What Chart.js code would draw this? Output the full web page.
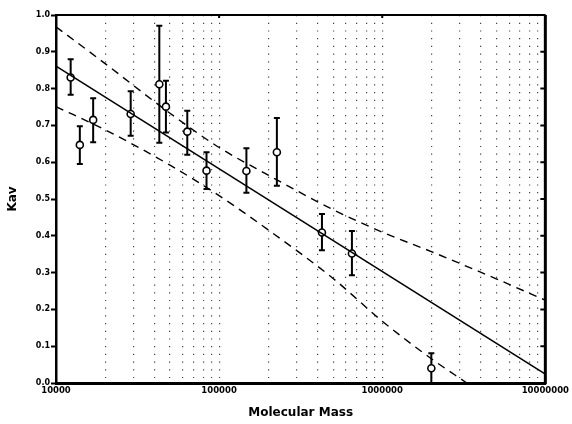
<!DOCTYPE html>
<html>
<head>
<meta charset="utf-8">
<script src="https://cdn.jsdelivr.net/npm/chart.js@4"></script>
<style>
  html, body { margin: 0; padding: 0; background: #fff; }
  #wrap { width: 572px; height: 424px; }
</style>
</head>
<body>
<div id="wrap"><canvas id="c"></canvas></div>
<script>
// measured standards (molecular mass vs Kav)
const mass = [12300, 14000, 16900, 28700, 43000, 47200, 63800, 83700, 147000, 226000, 427000, 652000, 2000000];
const kav = [0.830, 0.647, 0.715, 0.731, 0.812, 0.751, 0.683, 0.577, 0.576, 0.627, 0.409, 0.352, 0.040];
const kavHigh = [0.880, 0.698, 0.774, 0.793, 0.971, 0.821, 0.740, 0.627, 0.638, 0.720, 0.459, 0.413, 0.081];
const kavLow = [0.783, 0.595, 0.654, 0.672, 0.653, 0.681, 0.620, 0.527, 0.517, 0.536, 0.361, 0.293, 0.0];

// fitted line and confidence bands
const fitMass = [10000, 10000000];
const fitKav = [0.861, 0.024];
const upperMass = [10000, 20000, 50000, 100000, 200000, 500000, 1000000, 2000000, 5000000, 10000000];
const upperKav = [0.968, 0.868, 0.733, 0.640, 0.565, 0.471, 0.410, 0.357, 0.283, 0.225];
const lowerMass = [10000, 20000, 50000, 100000, 200000, 500000, 1000000, 2000000, 3300000];
const lowerKav = [0.751, 0.688, 0.592, 0.509, 0.416, 0.284, 0.168, 0.066, 0.0];

const xTicks = [];
for (const d of [10000, 100000, 1000000]) {
  for (let k = 1; k <= 9; k++) xTicks.push(d * k);
}
xTicks.push(10000000);
const xTickLabels = [10000, 100000, 1000000, 10000000];
const yTicks = [0, 0.1, 0.2, 0.3, 0.4, 0.5, 0.6, 0.7, 0.8, 0.9, 1.0];

const FONT = "'DejaVu Sans', sans-serif";

const pts = (xs, ys) => xs.map((x, i) => ({ x, y: ys[i] }));

// error bars under the markers, plus top/right frame with inside ticks
const errorBars = {
  id: 'errorBars',
  beforeDatasetsDraw(chart) {
    const { ctx, scales: { x, y } } = chart;
    ctx.save();
    ctx.strokeStyle = '#000';
    ctx.lineWidth = 2;
    mass.forEach((m, i) => {
      const px = x.getPixelForValue(m);
      const top = y.getPixelForValue(kavHigh[i]);
      const bot = y.getPixelForValue(kavLow[i]);
      ctx.beginPath();
      ctx.moveTo(px, top); ctx.lineTo(px, bot);
      ctx.moveTo(px - 3, top); ctx.lineTo(px + 3, top);
      ctx.moveTo(px - 3, bot); ctx.lineTo(px + 3, bot);
      ctx.stroke();
    });
    ctx.restore();
  },
  afterDraw(chart) {
    const { ctx, chartArea: a, scales: { x, y } } = chart;
    ctx.save();
    ctx.setLineDash([]);
    ctx.strokeStyle = '#000';
    ctx.lineWidth = 2;
    ctx.beginPath();
    ctx.moveTo(a.left, a.top); ctx.lineTo(a.right, a.top);
    ctx.stroke();
    ctx.lineWidth = 3;
    ctx.beginPath();
    ctx.moveTo(a.right, a.top); ctx.lineTo(a.right, a.bottom + 1);
    ctx.stroke();
    ctx.lineWidth = 2;
    ctx.beginPath();
    yTicks.forEach(v => {
      const py = y.getPixelForValue(v);
      ctx.moveTo(a.right - 5, py); ctx.lineTo(a.right, py);
    });
    xTickLabels.forEach(v => {
      const px = x.getPixelForValue(v);
      ctx.moveTo(px, a.top); ctx.lineTo(px, a.top + 3);
    });
    ctx.stroke();
    ctx.restore();
  }
};

new Chart(document.getElementById('c'), {
  type: 'scatter',
  data: {
    datasets: [
      {
        data: pts(fitMass, fitKav),
        showLine: true,
        borderColor: '#000',
        borderWidth: 1.6,
        pointRadius: 0,
      },
      {
        data: pts(upperMass, upperKav),
        showLine: true,
        borderColor: '#000',
        borderWidth: 1.4,
        borderDash: [8, 6],
        pointRadius: 0,
        cubicInterpolationMode: 'monotone',
      },
      {
        data: pts(lowerMass, lowerKav),
        showLine: true,
        borderColor: '#000',
        borderWidth: 1.4,
        borderDash: [8, 6],
        pointRadius: 0,
        cubicInterpolationMode: 'monotone',
      },
      {
        data: pts(mass, kav),
        showLine: false,
        pointRadius: 3.5,
        pointBackgroundColor: '#fff',
        pointBorderColor: '#000',
        pointBorderWidth: 1.6,
      }
    ]
  },
  options: {
    responsive: true,
    maintainAspectRatio: false,
    animation: false,
    events: [],
    layout: { padding: { top: 15, right: 26, left: 0, bottom: 0 } },
    plugins: {
      legend: { display: false },
      tooltip: { enabled: false }
    },
    scales: {
      x: {
        type: 'logarithmic',
        min: 10000,
        max: 10000000,
        afterBuildTicks: s => { s.ticks = xTicks.map(v => ({ value: v })); },
        afterFit: s => { s.height = 41; },
        grid: {
          color: '#444',
          lineWidth: 1.2,
          drawTicks: false,
        },
        border: { display: true, color: '#000', width: 3, dash: [1.2, 6.5] },
        ticks: {
          autoSkip: false,
          maxRotation: 0,
          padding: 3,
          color: '#000',
          font: { family: FONT, size: 8.5, weight: 'bold' },
          callback: v => xTickLabels.includes(v) ? String(v) : '',
        },
        title: {
          display: true,
          text: 'Molecular Mass',
          color: '#000',
          font: { family: FONT, size: 12, weight: 'bold' },
          padding: { top: 6, bottom: 4 },
        }
      },
      y: {
        min: 0,
        max: 1,
        afterBuildTicks: s => { s.ticks = yTicks.map(v => ({ value: v })); },
        afterFit: s => { s.width = 56; },
        grid: {
          drawOnChartArea: false,
          drawTicks: true,
          tickLength: 5,
          tickColor: '#000',
          tickWidth: 2,
        },
        border: { display: true, color: '#000', width: 2.5 },
        ticks: {
          padding: 1,
          color: '#000',
          font: { family: FONT, size: 8, weight: 'bold' },
          callback: v => v.toFixed(1),
        },
        title: {
          display: true,
          text: 'Kav',
          color: '#000',
          font: { family: FONT, size: 12, weight: 'bold' },
          padding: { top: 6, bottom: 0 },
        }
      }
    }
  },
  plugins: [errorBars]
});
</script>
</body>
</html>
